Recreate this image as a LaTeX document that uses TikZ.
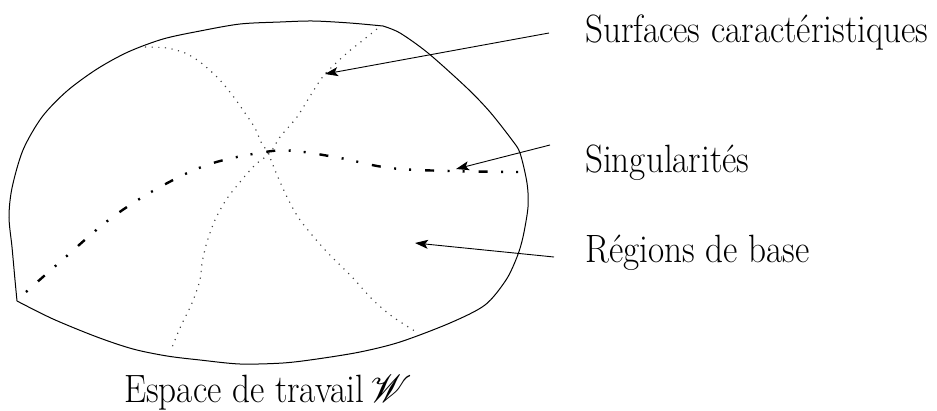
\documentclass[tikz,border=0pt]{standalone}
\usepackage{fontspec}
\newfontfamily\lblfont[FakeStretch=0.89]{Latin Modern Roman}
\usepackage{mathrsfs}
\usetikzlibrary{arrows.meta}
\begin{document}
\begin{tikzpicture}[x=1pt,y=-1pt,
  outline/.style={line width=1pt, black},
  surf/.style={line width=1.15pt, black!75, dash pattern=on 1.15pt off 5.5pt},
  sing/.style={line width=2.4pt, black, dash pattern=on 2pt off 14pt on 9pt off 13.5pt on 2pt off 13pt},
  pointer/.style={line width=0.9pt, black, -{Stealth[length=13pt,width=9pt,inset=3pt]}},
  lbl/.style={font=\lblfont\fontsize{39.5}{44}\selectfont, inner sep=0pt, anchor=base west}]
\useasboundingbox (0,0) rectangle (937,410);
% outline of the workspace
\draw[outline] plot[smooth, tension=0.5] coordinates {(17,301) (15,280) (12,247) (9,217) (12,188) (23,150) (42,117) (67,91) (97,69) (128,52) (163,39) (200,31) (240,24) (280,22) (313,21) (350,23) (383,26)};
\draw[outline] plot[smooth, tension=0.5] coordinates {(383,26) (400,33) (428,53) (467,88) (490,112) (512,140) (520,153) (527,183) (528,207) (523,237) (517,257) (506,280) (485,305) (450,323) (400,342) (360,352) (317,359) (283,363) (240,364) (200,360) (167,356) (133,349) (97,337) (53,319) (17,301)};
% characteristic surfaces
\draw[surf] plot[smooth, tension=0.5] coordinates {(145,47) (167,48) (185,53) (200,62) (218,78) (233,96) (245,113) (255,128) (261,142) (268,153) (277,175) (287,197) (298,217) (312,235) (327,252) (343,268) (353,278) (373,300) (393,317) (418,333)};
\draw[surf] plot[smooth, tension=0.5] coordinates {(377,29) (362,41) (347,53) (325,74) (312,93) (297,117) (280,137) (270,153) (255,165) (240,182) (226,200) (215,220) (207,242) (202,263) (200,280) (192,303) (180,328) (171,350)};
% singularities
\draw[sing] plot[smooth, tension=0.6] coordinates {(26,292) (60,262) (110,219) (160,187) (210,164) (265,152) (295,151) (340,158) (390,168) (450,171) (520,172)};
% labels
\node[lbl] (surfl) at (585,42) {Surfaces caractéristiques};
\node[lbl] (singl) at (585,172) {Singularités};
\node[lbl] (regl) at (585,262) {Régions de base};
\node[lbl] (espl) at (124,402) {Espace de travail\hspace{6pt}\resizebox{42pt}{!}{$\mathscr{W}$}};
% arrows
\coordinate (a1s) at (549,33);
\coordinate (a1e) at (325,74);
\coordinate (a2s) at (550,145);
\coordinate (a2e) at (456,169);
\coordinate (a3s) at (554,257);
\coordinate (a3e) at (415,243);
\draw[pointer] (a1s) -- (a1e);
\draw[pointer] (a2s) -- (a2e);
\draw[pointer] (a3s) -- (a3e);
\end{tikzpicture}
\end{document}
